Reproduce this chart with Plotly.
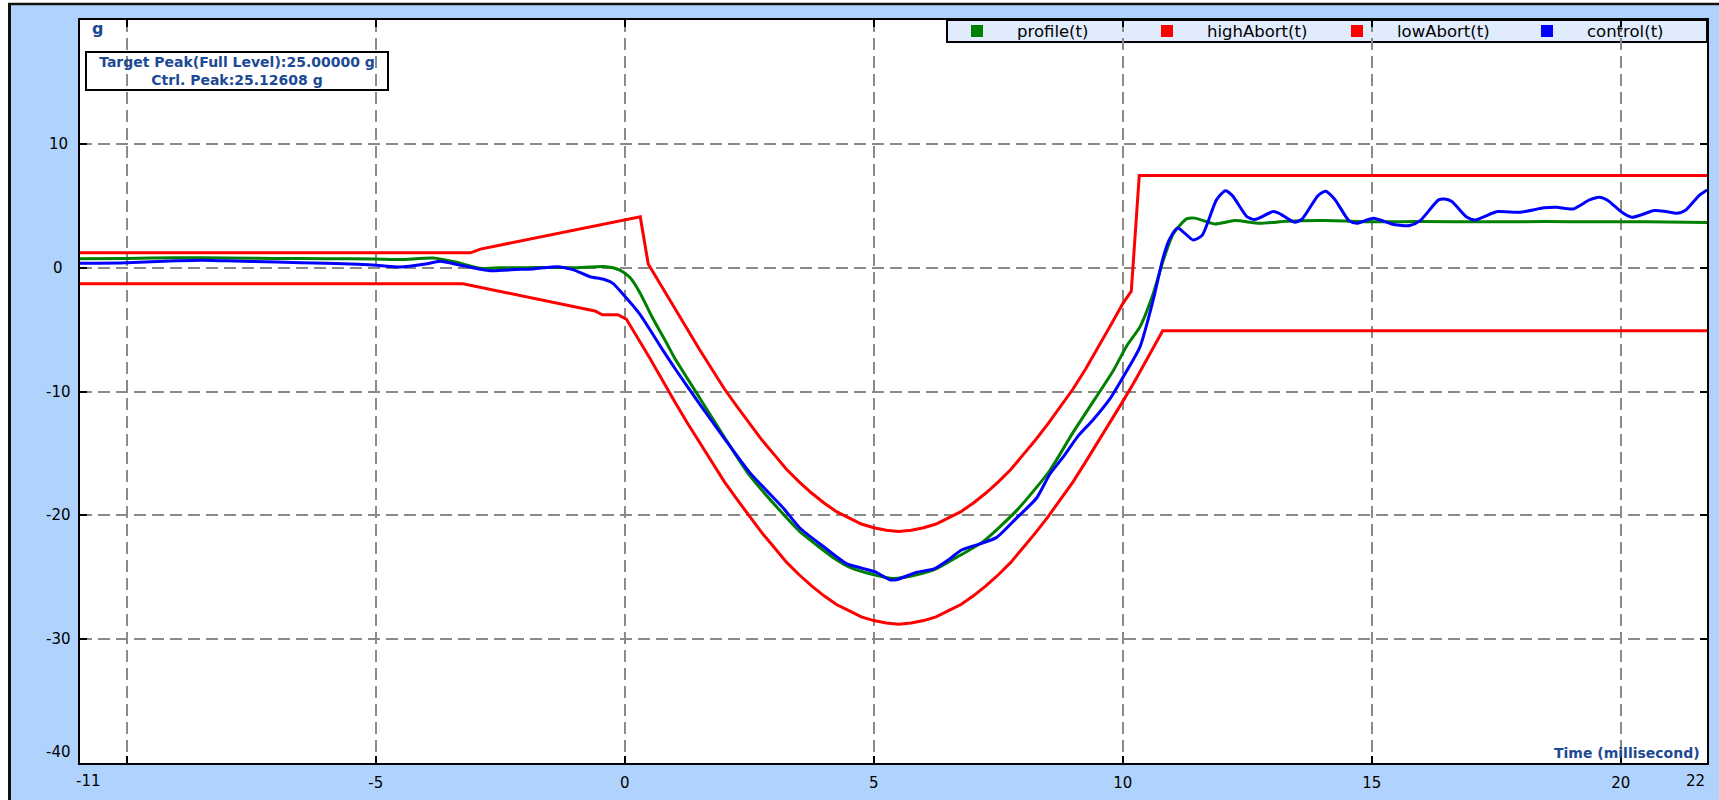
import plotly.graph_objects as go

# ---------------- data ----------------
series_names = ["profile(t)", "highAbort(t)", "lowAbort(t)", "control(t)"]
series_colors = ["#008000", "#ff0000", "#ff0000", "#0000ff"]

t_high = [-10.94, -3.1, -2.9, 0.31, 0.47, 0.75, 1.0, 1.25, 1.5, 1.75, 2.0, 2.25, 2.5, 2.75, 3.0, 3.25, 3.5,
          3.75, 4.0, 4.25, 4.5, 4.75, 5.0, 5.25, 5.5, 5.75, 6.0, 6.25, 6.5, 6.75, 7.0, 7.25, 7.5, 7.75, 8.0,
          8.25, 8.5, 8.75, 9.0, 9.25, 9.5, 9.75, 10.0, 10.17, 10.33, 21.73]
high_abort = [1.2, 1.2, 1.5, 4.1, 0.3, -1.6, -3.3, -5.0, -6.6, -8.2, -9.8, -11.2, -12.6, -13.9, -15.1, -16.3, -17.3,
              -18.2, -19.0, -19.7, -20.2, -20.7, -21.0, -21.2, -21.3, -21.2, -21.0, -20.7, -20.2, -19.7, -19.0, -18.2, -17.3, -16.3, -15.1,
              -13.9, -12.6, -11.2, -9.8, -8.2, -6.5, -4.7, -2.9, -1.9, 7.45, 7.45]

t_low = [-10.94, -3.25, -0.6, -0.45, -0.14, 0.03, 0.5, 0.75, 1.0, 1.25, 1.5, 1.75, 2.0, 2.25, 2.5, 2.75, 3.0,
         3.25, 3.5, 3.75, 4.0, 4.25, 4.5, 4.75, 5.0, 5.25, 5.5, 5.75, 6.0, 6.25, 6.5, 6.75, 7.0, 7.25, 7.5,
         7.75, 8.0, 8.25, 8.5, 8.75, 9.0, 9.25, 9.5, 9.75, 10.0, 10.25, 10.5, 10.8, 21.73]
low_abort = [-1.3, -1.3, -3.5, -3.8, -3.8, -4.15, -7.3, -9.1, -10.8, -12.5, -14.1, -15.7, -17.3, -18.7, -20.1, -21.4, -22.6,
             -23.8, -24.8, -25.7, -26.5, -27.2, -27.7, -28.2, -28.5, -28.7, -28.8, -28.7, -28.5, -28.2, -27.7, -27.2, -26.5, -25.7, -24.8,
             -23.8, -22.6, -21.4, -20.1, -18.7, -17.3, -15.7, -14.1, -12.5, -10.8, -9.1, -7.3, -5.1, -5.1]

t_prof = [-10.94, -10, -9, -8, -7, -6, -5, -4.5, -3.85, -3.4, -2.9, -2.5, -2, -1.5, -1, -0.37, -0.1, 0.1,
          0.3, 0.55, 0.84, 1.0, 1.5, 2.0, 2.51, 3.18, 3.51, 3.85, 4.18, 4.52, 5.0, 5.39, 5.86, 6.26, 6.66,
          7.2, 7.87, 8.53, 9.0, 9.44, 9.81, 10.08, 10.34, 10.61, 10.81, 11.01, 11.28, 11.45, 11.84, 12.25,
          12.74, 13.3, 14.05, 15.03, 16.0, 17.3, 18.5, 19.5, 20.5, 21.73]
profile = [0.72, 0.75, 0.8, 0.78, 0.75, 0.72, 0.7, 0.65, 0.78, 0.45, -0.05, 0.0, 0.0, 0.02, 0.0, 0.08, -0.19, -0.78,
           -2.0, -4.0, -6.1, -7.3, -10.5, -13.7, -16.8, -19.9, -21.3, -22.4, -23.4, -24.2, -24.8, -25.1, -24.8, -24.3, -23.4,
           -22.1, -19.6, -16.4, -13.3, -10.6, -8.3, -6.3, -4.8, -2.1, 0.57, 2.72, 3.94, 4.0, 3.53, 3.8,
           3.58, 3.75, 3.8, 3.7, 3.72, 3.7, 3.72, 3.7, 3.7, 3.65]

t_ctrl = [-10.94, -10, -9, -8.5, -8, -7, -6, -5, -4.52, -4.0, -3.71, -3.3, -2.71, -2.2, -1.84, -1.34, -1.04,
          -0.7, -0.44, -0.24, -0.04, 0.3, 0.77, 1.0, 1.5, 2.0, 2.51, 3.18, 3.51, 3.98, 4.45, 4.79, 5.05, 5.32,
          5.45, 5.86, 6.22, 6.53, 6.76, 7.13, 7.46, 7.87, 8.27, 8.53, 8.8, 9.1, 9.4, 9.74, 10.0, 10.34, 10.61,
          10.81, 10.94, 11.1, 11.41, 11.59, 11.88, 12.06, 12.2, 12.49, 12.65, 13.02, 13.14, 13.45, 13.6, 13.92,
          14.07, 14.25, 14.54, 14.7, 15.03, 15.44, 15.76, 15.97, 16.34, 16.46, 16.6, 16.91, 17.07, 17.52, 17.97,
          18.46, 18.71, 19.04, 19.37, 19.57, 19.74, 20.02, 20.22, 20.67, 20.87, 21.13, 21.29, 21.57, 21.73]
control = [0.35, 0.4, 0.55, 0.6, 0.55, 0.45, 0.35, 0.2, 0.05, 0.3, 0.51, 0.2, -0.24, -0.15, -0.1, 0.08, -0.16,
           -0.73, -0.92, -1.27, -2.13, -3.75, -6.7, -8.1, -11.0, -13.8, -16.55, -19.4, -21.0, -22.5, -23.9, -24.3, -24.6, -25.2,
           -25.2, -24.6, -24.3, -23.5, -22.8, -22.3, -21.8, -20.2, -18.6, -16.7, -15.3, -13.6, -12.3, -10.6, -8.87, -6.44, -2.6,
           0.83, 2.32, 3.21, 2.24, 2.59, 5.47, 6.22, 5.82, 4.12, 3.88, 4.53, 4.39, 3.66, 3.93, 5.82,
           6.17, 5.55, 3.8, 3.58, 3.99, 3.48, 3.40, 3.8, 5.47, 5.55, 5.36, 4.07, 3.85, 4.53, 4.47,
           4.83, 4.88, 4.74, 5.47, 5.69, 5.42, 4.47, 4.07, 4.61, 4.56, 4.39, 4.61, 5.82, 6.28]

x_range = [-10.94, 21.73]
y_range = [-40, 20]
x_tick_vals = [-10, -5, 0, 5, 10, 15, 20]
x_tick_text = ["", "-5", "0", "5", "10", "15", "20"]
y_tick_vals = [-30, -20, -10, 0, 10]
y_tick_text = ["-30", "-20", "-10", "0", "10"]
x_edge_labels = ["-11", "22"]
y_edge_label = "-40"
info_lines = ["Target Peak(Full Level):25.00000 g", "Ctrl. Peak:25.12608 g"]
y_unit = "g"
x_title = "Time (millisecond)"

# ---------------- geometry helpers (pixels -> paper) ----------------
W, H = 1719, 800
ML, MR, MT, MB = 80, 12, 20, 37
PW, PH = W - ML - MR, H - MT - MB


def px(x):
    return (x - ML) / PW


def py(y):
    return (H - MB - y) / PH


BLUE_BG = "#b0d3fd"
TXT_BLUE = "#1d4a94"
FONT = "DejaVu Sans"

fig = go.Figure()
xs = [t_prof, t_high, t_low, t_ctrl]
ys = [profile, high_abort, low_abort, control]
for name, col, x, y in zip(series_names, series_colors, xs, ys):
    assert len(x) == len(y), name
    smooth = name in ("profile(t)", "control(t)")
    fig.add_trace(go.Scatter(
        x=x, y=y, name=name, mode="lines",
        line=dict(color=col, width=3, shape="spline" if smooth else "linear",
                  smoothing=0.6 if smooth else None),
        showlegend=False,
    ))

axis_common = dict(
    showline=True, linecolor="black", linewidth=2, mirror="ticks",
    ticks="inside", ticklen=7, tickwidth=2, tickcolor="black",
    showgrid=True, gridcolor="#8a8a8a", gridwidth=1.6, griddash="12px,6px",
    zeroline=False, tickfont=dict(family=FONT, size=15, color="black"),
    automargin=False,
)
fig.update_xaxes(range=x_range, tickvals=x_tick_vals, ticktext=x_tick_text,
                 ticklabelstandoff=5, **axis_common)
fig.update_yaxes(range=y_range, tickvals=y_tick_vals, ticktext=y_tick_text,
                 showticklabels=False, **axis_common)

shapes = []
# white margins + black frame at top/left of the outer panel
shapes.append(dict(type="rect", xref="paper", yref="paper", x0=px(-5), x1=px(8), y0=py(820), y1=py(-5),
                   fillcolor="white", line=dict(width=0), layer="above"))
shapes.append(dict(type="rect", xref="paper", yref="paper", x0=px(-5), x1=px(1730), y0=py(3), y1=py(-5),
                   fillcolor="white", line=dict(width=0), layer="above"))
shapes.append(dict(type="line", xref="paper", yref="paper", x0=px(9.5), x1=px(9.5), y0=py(3), y1=py(820),
                   line=dict(color="#111111", width=3), layer="above"))
shapes.append(dict(type="line", xref="paper", yref="paper", x0=px(8), x1=px(1730), y0=py(4), y1=py(4),
                   line=dict(color="#111111", width=2.5), layer="above"))
# legend box
shapes.append(dict(type="rect", xref="paper", yref="paper", x0=px(947), x1=px(1707), y0=py(42), y1=py(20),
                   fillcolor="#e0ebfb", line=dict(color="black", width=2), layer="below"))

annotations = []
for i, (name, col) in enumerate(zip(series_names, series_colors)):
    cx = 977 + 190 * i
    shapes.append(dict(type="rect", xref="paper", yref="paper", x0=px(cx - 6), x1=px(cx + 6),
                       y0=py(37), y1=py(25), fillcolor=col, line=dict(width=0), layer="above"))
    annotations.append(dict(text=name, xref="paper", yref="paper", x=px(cx + 38), y=py(31),
                            xanchor="left", yanchor="middle", showarrow=False,
                            font=dict(family=FONT, size=16.5, color="black")))

# y tick labels (centred, as in the reference)
for v, lab in zip(y_tick_vals, y_tick_text):
    annotations.append(dict(text=lab, xref="paper", yref="y", x=px(58), y=v,
                            xanchor="center", yanchor="middle", showarrow=False,
                            font=dict(family=FONT, size=15, color="black")))

annotations.append(dict(text="<b>" + y_unit + "</b>", xref="paper", yref="paper", x=px(90), y=py(29),
                        xanchor="left", yanchor="middle", showarrow=False,
                        font=dict(family=FONT, size=16, color=TXT_BLUE)))
annotations.append(dict(text="<br>".join("<b>" + s + "</b>" for s in info_lines), xref="paper", yref="paper",
                        x=px(237), y=py(71), xanchor="center", yanchor="middle", showarrow=False,
                        width=298, height=34, borderpad=1, bordercolor="black", borderwidth=2,
                        bgcolor="rgba(255,255,255,0)", align="center",
                        font=dict(family=FONT, size=14, color=TXT_BLUE)))
annotations.append(dict(text="<b>" + x_title + "</b>", xref="paper", yref="paper", x=px(1702), y=py(753),
                        xanchor="right", yanchor="middle", showarrow=False,
                        font=dict(family=FONT, size=14, color=TXT_BLUE)))
for lab, xp in zip(x_edge_labels, [88, 1695]):
    annotations.append(dict(text=lab, xref="paper", yref="paper", x=px(xp), y=py(781),
                            xanchor="center", yanchor="middle", showarrow=False,
                            font=dict(family=FONT, size=15, color="black")))
annotations.append(dict(text=y_edge_label, xref="paper", yref="paper", x=px(58), y=py(752),
                        xanchor="center", yanchor="middle", showarrow=False,
                        font=dict(family=FONT, size=15, color="black")))

fig.update_layout(
    width=W, height=H,
    margin=dict(l=ML, r=MR, t=MT, b=MB, pad=0, autoexpand=False),
    paper_bgcolor=BLUE_BG, plot_bgcolor="white",
    shapes=shapes, annotations=annotations,
    font=dict(family=FONT),
    showlegend=False,
)

fig.write_html("out.html", config={"displayModeBar": False},
               post_script="document.body.style.margin='0';document.body.style.overflow='hidden';")
